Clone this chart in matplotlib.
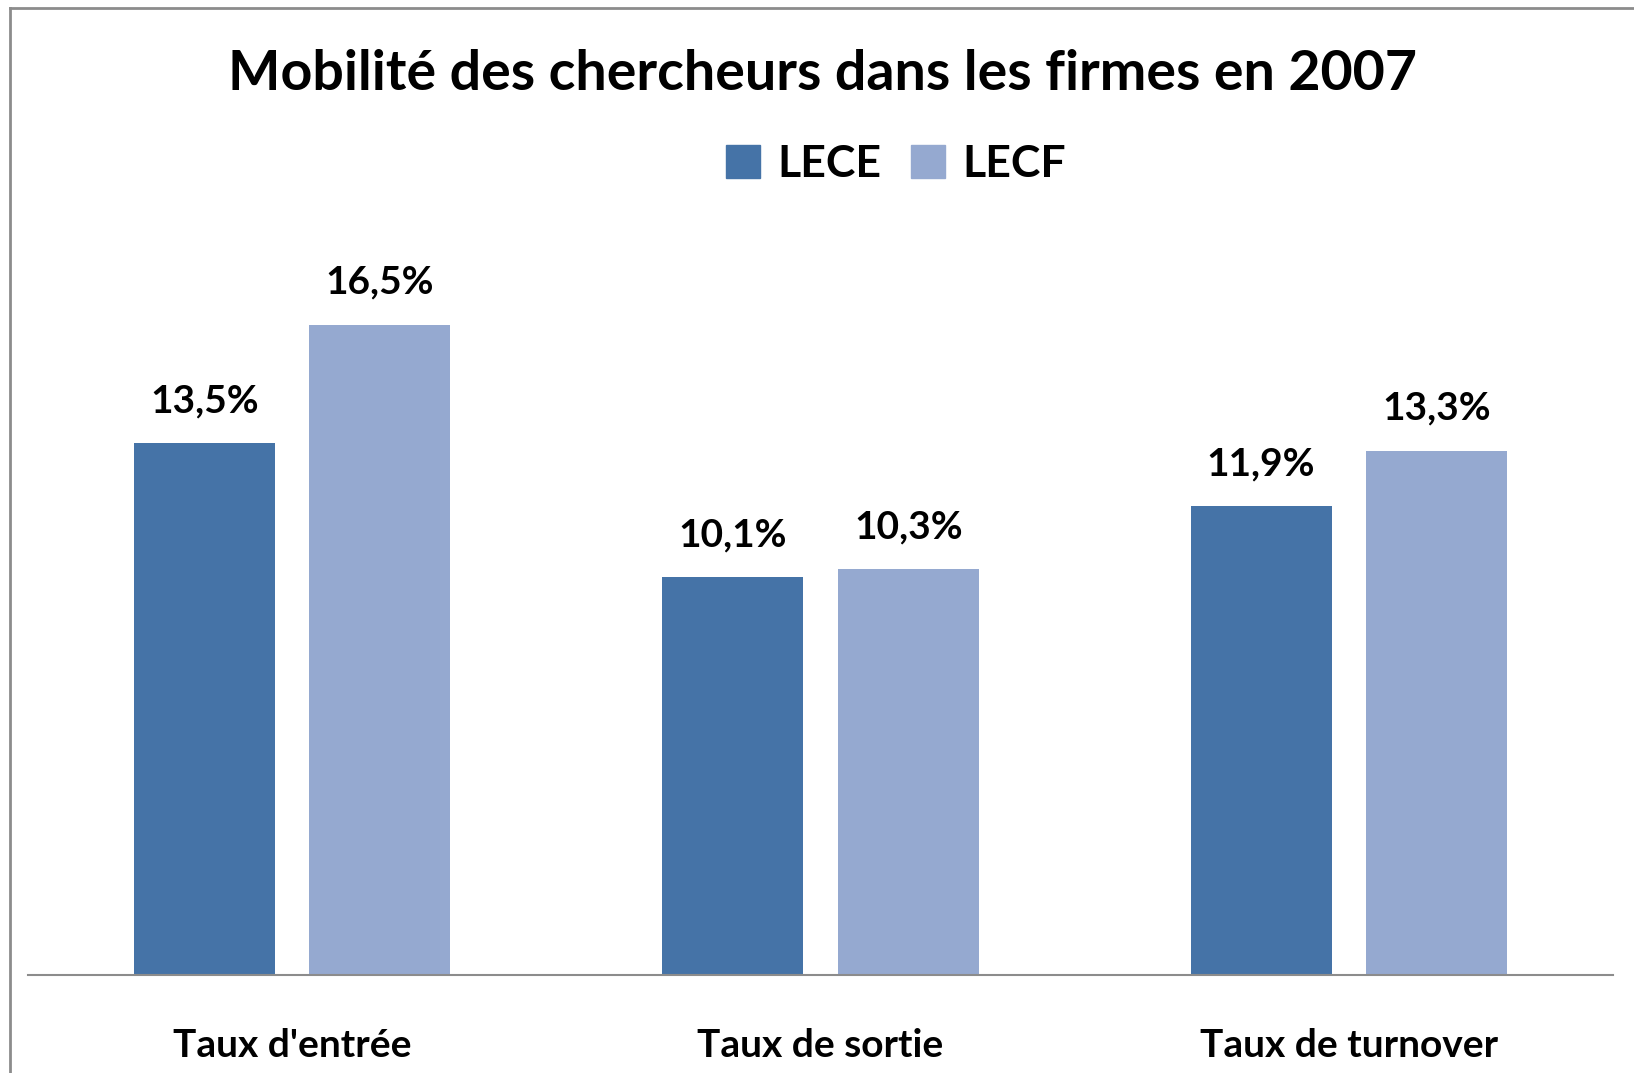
import matplotlib.pyplot as plt
from matplotlib.lines import Line2D
from matplotlib.patches import Patch
import numpy as np

# data
categories = ["Taux d'entrée", "Taux de sortie", "Taux de turnover"]
series_names = ["LECE", "LECF"]
lece = [13.5, 10.1, 11.9]
lecf = [16.5, 10.3, 13.3]

COLORS = ["#4573A7", "#95A9D0"]
FONT = ["Lato", "DejaVu Sans"]

plt.rcParams["font.family"] = FONT
plt.rcParams["font.weight"] = "bold"

W, H = 1634, 1073
fig = plt.figure(figsize=(W / 100, H / 100), dpi=100)
ax = fig.add_axes([28 / W, 1 - 975 / H, (1613 - 28) / W, (975 - 187) / H])

x = np.arange(len(categories))
bw = 0.267
off = 0.166
b1 = ax.bar(x - off, lece, bw, color=COLORS[0], label=series_names[0])
b2 = ax.bar(x + off, lecf, bw, color=COLORS[1], label=series_names[1])

fmt = lambda v: f"{v:.1f}%".replace(".", ",")
for bars in (b1, b2):
    ax.bar_label(bars, labels=[fmt(b.get_height()) for b in bars],
                 padding=18, fontsize=28, fontweight="bold")

ax.set_xlim(-0.5, 2.5)
ax.set_ylim(0, 20)
ax.set_xticks(x)
ax.set_xticklabels(categories, fontsize=28, fontweight="bold")
ax.tick_params(axis="x", length=0, pad=38)
ax.set_yticks([])
for s in ("left", "right", "top"):
    ax.spines[s].set_visible(False)
ax.spines["bottom"].set_color("#8c8c8c")
ax.spines["bottom"].set_linewidth(1.5)

fig.text(822 / W, 1 - 74 / H, "Mobilité des chercheurs dans les firmes en 2007",
         ha="center", va="center", fontsize=40, fontweight="bold")

handles = [Patch(color=c, label=n) for c, n in zip(COLORS, series_names)]
fig.legend(handles=handles, loc="center", bbox_to_anchor=(896 / W, 1 - 164 / H),
           ncol=2, frameon=False, prop={"size": 32, "weight": "bold"},
           handlelength=0.77, handleheight=0.77, handletextpad=0.4,
           columnspacing=0.65, borderpad=0)

# chart frame (left and top edges only, the rest is cropped)
fig.add_artist(Line2D([10 / W, 10 / W], [0, 1 - 8 / H], color="#8c8c8c", lw=2,
                      transform=fig.transFigure))
fig.add_artist(Line2D([10 / W, 1], [1 - 8 / H, 1 - 8 / H], color="#8c8c8c", lw=2,
                      transform=fig.transFigure))

fig.savefig("out.png", dpi=100)
